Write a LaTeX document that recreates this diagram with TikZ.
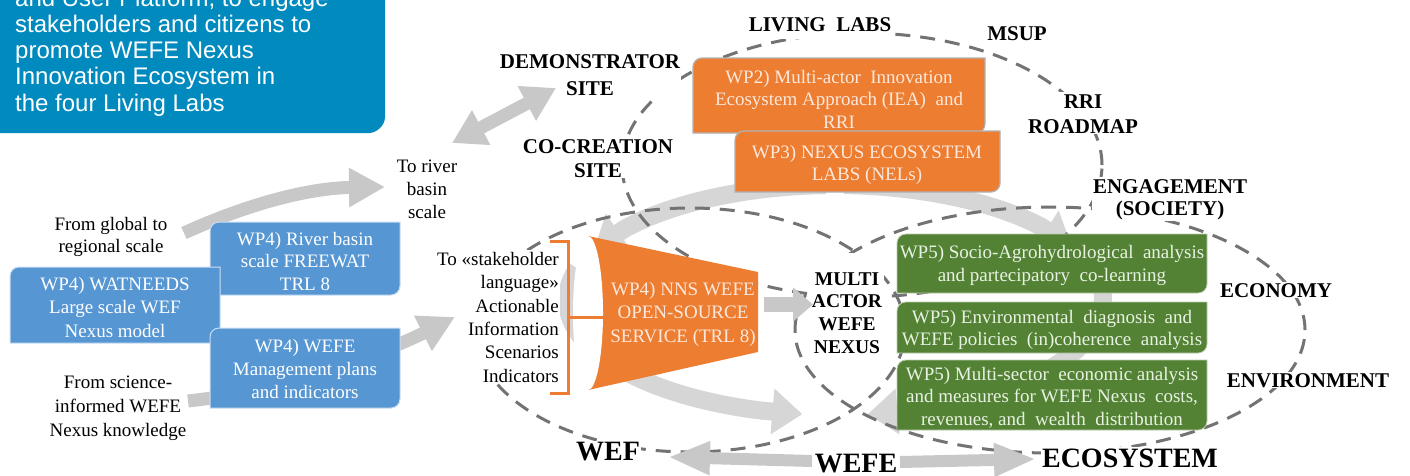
\documentclass[tikz,border=0pt]{standalone}
\usepackage{fontspec}
\setmainfont{Liberation Serif}
\newfontfamily\sansf{Liberation Sans}
\usetikzlibrary{arrows.meta}
\definecolor{tlblue}{RGB}{0,138,190}
\definecolor{boxblue}{RGB}{86,150,211}
\definecolor{boxorange}{RGB}{237,125,49}
\definecolor{boxgreen}{RGB}{84,130,53}
\definecolor{arrowgrey}{RGB}{200,200,200}
\definecolor{ringgrey}{RGB}{214,214,214}
\definecolor{dashgrey}{RGB}{115,115,115}
\definecolor{lightorange}{RGB}{252,232,220}
\definecolor{lightgreen}{RGB}{232,242,226}
\newcommand\wfbox[5]{\path[#5] (#1,#4) -- (#1,#2+9) .. controls (#1,#2+4) and (#1+4,#2) .. (#1+9,#2) -- (#3,#2) -- (#3,#4-9) .. controls (#3,#4-4) and (#3-4,#4) .. (#3-9,#4) -- cycle;}
\newcommand\stA{\rule{0pt}{14pt}}
\newcommand\stB{\rule{0pt}{15pt}}
\tikzset{
  lab/.style={font=\fontsize{19}{23.4}\selectfont, inner sep=1pt, align=center},
  boldlab/.style={font=\bfseries\fontsize{21}{25}\selectfont, fill=white, inner sep=1pt, align=center},
  biglab/.style={font=\bfseries\fontsize{28}{32}\selectfont, fill=white, inner sep=1pt},
  boxtext/.style={font=\fontsize{19}{23}\selectfont, inner sep=0pt, align=center},
  bluefill/.style={fill=boxblue, draw=white!70!boxblue, line width=1pt},
  orangefill/.style={fill=boxorange, draw=gray!60, line width=1.2pt},
  greenfill/.style={fill=boxgreen, draw=white!60!boxgreen, line width=0.8pt},
  flatarrow/.style={draw=arrowgrey, line width=13pt, -{Triangle[width=37pt,length=36pt]}},
  dblarrow/.style={draw=arrowgrey, line width=13pt, {Triangle[width=37pt,length=33pt]}-{Triangle[width=37pt,length=33pt]}},
  shortarrow/.style={draw=arrowgrey, line width=15pt, -{Triangle[width=33pt,length=20pt]}},
  bottomarrow/.style={draw=arrowgrey, line width=12pt, -{Triangle[width=31pt,length=42pt]}},
  ringarrow/.style={draw=ringgrey, line width=18pt, -{Triangle[width=44pt,length=30pt]}},
  ellipsedash/.style={draw=dashgrey, line width=3pt, dash pattern=on 15pt off 10pt},
  tltext/.style={font=\sansf\fontsize{24}{26.2}\selectfont, text=white, align=left, inner sep=0pt}
}
\begin{document}
\begin{tikzpicture}[x=1pt,y=-1pt]
\fill[white] (0,0) rectangle (1410,475);
\useasboundingbox (0,0) rectangle (1410,475);
\clip (0,0) rectangle (1410,475);

% top-left box
\fill[tlblue] (0,-40) -- (385,-40) -- (385,117) .. controls (385,126) and (376,133) .. (369,133) -- (0,133) -- cycle;
\node[tltext, anchor=north west] (tlbox) at (15,-12) {\rule{0pt}{18pt}and User Platform, to engage\\stakeholders and citizens to\\promote WEFE Nexus\\Innovation Ecosystem in\\the four Living Labs};

% ring arrows
\coordinate (ringTLtip) at ({835+268*cos(206)},{300+115*sin(206)});
\coordinate (ringTRtip) at ({835+268*cos(332)},{300+115*sin(332)});
\coordinate (ringBLtip) at ({835+268*cos(97)},{300+115*sin(97)});
\coordinate (ringBRtip) at ({835+268*cos(83)},{300+115*sin(83)});
\draw[ringarrow] plot[domain=268:218,samples=30] ({835+268*cos(\x)},{300+115*sin(\x)}) -- (ringTLtip);
\draw[ringarrow] plot[domain=272:320,samples=30] ({835+268*cos(\x)},{300+115*sin(\x)}) -- (ringTRtip);
\draw[ringarrow] plot[domain=196:106,samples=40] ({835+268*cos(\x)},{300+115*sin(\x)}) -- (ringBLtip);
\draw[ringarrow] plot[domain=-16:74,samples=40] ({835+268*cos(\x)},{300+115*sin(\x)}) -- (ringBRtip);

% dashed ellipses
\draw[ellipsedash] (690,330) ellipse [x radius=215pt, y radius=122pt];
\draw[ellipsedash] (1050,330) ellipse [x radius=255pt, y radius=123pt];
\draw[ellipsedash] (862,165) ellipse [x radius=240pt, y radius=132pt];

% labels
\node[lab, anchor=north, font=\fontsize{19}{22}\selectfont] (fromglobal) at (111,215) {\stA From global to\\regional scale};
\node[lab, anchor=north, font=\fontsize{19}{23}\selectfont] (toriver) at (427,157) {\stA To river\\basin\\scale};
\node[lab, anchor=north, font=\fontsize{19}{24}\selectfont] (fromsci) at (118,373) {\stA From science-\\informed WEFE\\Nexus knowledge};
\node[lab, fill=white, anchor=north east, align=right] (tostake) at (560,250) {\stA To «stakeholder\\language»\\Actionable\\Information\\Scenarios\\Indicators};
\node[boldlab, anchor=north, font=\bfseries\fontsize{21}{27}\selectfont] (demo) at (590,52) {\stB DEMONSTRATOR\\SITE};
\node[boldlab, anchor=north, font=\bfseries\fontsize{21}{24}\selectfont] (cocr) at (598,137) {\stB CO-CREATION\\SITE};
\node[boldlab, anchor=north, font=\bfseries\fontsize{21}{25}\selectfont] (rri) at (1083,92) {\stB RRI\\ROADMAP};
\node[boldlab, anchor=north, font=\bfseries\fontsize{21}{22.5}\selectfont] (eng) at (1170,177) {\stB ENGAGEMENT\\(SOCIETY)};
\node[boldlab, anchor=base, inner ysep=8pt] (living) at (820,31) {LIVING~~LABS};
\node[boldlab, anchor=base] (msup) at (1017,40) {MSUP};
\node[boldlab, anchor=base] (economy) at (1276,297) {ECONOMY};
\node[boldlab, anchor=base] (environment) at (1308,387) {ENVIRONMENT};
\node[biglab, anchor=base] (ecosystem) at (1130,467) {ECOSYSTEM};
\node[biglab, anchor=base] (wef) at (608,460) {WEF};
\node[biglab, anchor=base, inner sep=0pt] (wefe) at (856,472) {WEFE};
\node[fill=white, inner xsep=2pt, inner ysep=0pt, anchor=north, align=center, font=\bfseries\fontsize{19.5}{22.7}\selectfont] (multi) at (847,253) {\rule{0pt}{32pt}MULTI\\ACTOR\\WEFE\\NEXUS};

% grey flat arrows
\coordinate (gA) at (184,233); \coordinate (gB) at (385,187);
\draw[flatarrow] (gA) .. controls (250,203) and (310,188) .. (gB);
\coordinate (dA) at (452,143); \coordinate (dB) at (556,88);
\draw[dblarrow] (dA) -- (dB);
\coordinate (sA) at (188,401); \coordinate (sB) at (455,317);
\draw[flatarrow] (sA) .. controls (290,390) and (390,350) .. (sB);
\coordinate (nA) at (764,304.5); \coordinate (nB) at (813,304.5);
\draw[shortarrow] (nA) -- (nB);
\coordinate (wA) at (812,461); \coordinate (wB) at (668,457);
\draw[bottomarrow] (wA) -- (wB);
\coordinate (eA) at (900,462); \coordinate (eB) at (1036,459);
\draw[bottomarrow] (eA) -- (eB);

% blue boxes
\wfbox{210}{222}{400}{295}{bluefill}
\node[boxtext, text=white, anchor=north, font=\fontsize{19}{22.5}\selectfont] (rbbox) at (305,231) {\stA WP4) River basin\\scale FREEWAT\\TRL 8};
\wfbox{10}{267}{220}{343}{bluefill}
\node[boxtext, text=white, anchor=north, font=\fontsize{19}{23.5}\selectfont] (watbox) at (115,276) {\stA WP4) WATNEEDS\\Large scale WEF\\Nexus model};
\wfbox{210}{328}{400}{408}{bluefill}
\node[boxtext, text=white, anchor=north] (wefebox) at (305,338) {\stA WP4) WEFE\\Management plans\\and indicators};

% orange boxes
\wfbox{693}{58}{985}{133}{orangefill}
\node[boxtext, text=lightorange, anchor=north, font=\fontsize{19}{22.5}\selectfont] (wp2box) at (839,69) {\stA WP2) Multi-actor\ \ Innovation\\Ecosystem Approach (IEA)\ \ and\\RRI};
\wfbox{735}{131}{1000}{192}{orangefill}
\node[boxtext, text=lightorange, anchor=north, font=\fontsize{19}{22}\selectfont] (wp3box) at (867,144) {\stA WP3) NEXUS ECOSYSTEM\\LABS (NELs)};

% green boxes
\wfbox{897}{234}{1207}{293}{greenfill}
\node[boxtext, text=lightgreen, anchor=north] (g1box) at (1052,244) {\stA WP5) Socio-Agrohydrological\ \ analysis\\and partecipatory\ \ co-learning};
\wfbox{897}{302}{1207}{353}{greenfill}
\node[boxtext, text=lightgreen, anchor=north, font=\fontsize{19}{22}\selectfont] (g2box) at (1052,309) {\stA WP5) Environmental\ \ diagnosis\ \ and\\WEFE policies\ \ (in)coherence\ \ analysis};
\wfbox{897}{360}{1207}{430}{greenfill}
\node[boxtext, text=lightgreen, anchor=north, font=\fontsize{19}{22.5}\selectfont] (g3box) at (1052,366) {\stA WP5) Multi-sector\ \ economic analysis\\and measures for WEFE Nexus\ \ costs,\\revenues, and\ \ wealth\ \ distribution};

% NNS funnel and bracket
\fill[boxorange] (588,236) -- (758,272) -- (758,352) -- (588,390) -- cycle;
\fill[white] (588,313) ellipse [x radius=15pt, y radius=77pt];
\draw[boxorange, line width=3pt] (550,241) -- (568,241) -- (568,393) -- (550,393);
\draw[boxorange, line width=3pt] (568,317) -- (603,317);
\node[boxtext, text=lightorange, anchor=north, font=\fontsize{19}{23.5}\selectfont] (nns) at (683,281) {\stA WP4) NNS WEFE\\OPEN-SOURCE\\SERVICE (TRL 8)};
\end{tikzpicture}
\end{document}
